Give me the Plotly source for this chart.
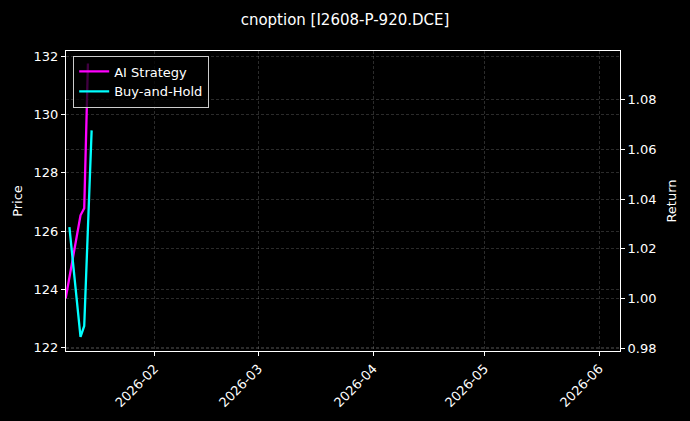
import plotly.graph_objects as go

# AI strategy equity curve
ai_dates = ["2026-01-08", "2026-01-09", "2026-01-12", "2026-01-13", "2026-01-14"]
ai_return = [1.000, 1.0086, 1.0335, 1.0363, 1.0947]

# buy-and-hold curve
bh_dates = ["2026-01-09", "2026-01-12", "2026-01-13", "2026-01-14", "2026-01-15"]
bh_return = [1.0287, 0.9845, 0.9889, 1.0287, 1.0677]

price_ticks = [122, 124, 126, 128, 130, 132]
return_ticks = [0.98, 1.00, 1.02, 1.04, 1.06, 1.08]
date_ticks = ["2026-02-01", "2026-03-01", "2026-04-01", "2026-05-01", "2026-06-01"]
date_labels = ["2026-02", "2026-03", "2026-04", "2026-05", "2026-06"]

grid = "rgba(255,255,255,0.17)"
font = "DejaVu Sans"
tf = dict(size=13)

fig = go.Figure()
# empty trace so the price axis gets drawn
fig.add_trace(go.Scatter(x=[], y=[], yaxis="y", showlegend=False, hoverinfo="skip"))
fig.add_trace(go.Scatter(x=ai_dates, y=ai_return, mode="lines", name="AI Strategy",
                         line=dict(color="#ff00ff", width=2.3), yaxis="y2"))
fig.add_trace(go.Scatter(x=bh_dates, y=bh_return, mode="lines", name="Buy-and-Hold",
                         line=dict(color="#00ffff", width=2.3), yaxis="y2"))

fig.update_layout(
    width=690, height=421,
    margin=dict(l=66, r=70, t=51, b=70, autoexpand=False),
    paper_bgcolor="black", plot_bgcolor="black",
    font=dict(family=font, color="white", size=13),
    title=dict(text="cnoption [I2608-P-920.DCE]", x=0.5, xanchor="center",
               y=0.952, yanchor="middle", font=dict(size=15), automargin=False),
    xaxis=dict(type="date", range=["2026-01-08 02:00", "2026-06-06 14:00"],
               tickvals=date_ticks, ticktext=date_labels, tickangle=-45,
               showline=True, linecolor="white", linewidth=1, mirror=True,
               ticks="outside", tickcolor="white", ticklen=4,
               showgrid=True, gridcolor=grid, griddash="3px,2px", gridwidth=0.6,
               zeroline=False, tickfont=tf, automargin=False),
    yaxis=dict(title=dict(text="Price", standoff=8, font=dict(size=13)),
               range=[121.88, 132.19],
               tickvals=price_ticks, showline=True, linecolor="white", linewidth=1,
               ticks="outside", tickcolor="white", ticklen=4,
               showgrid=True, gridcolor=grid, griddash="3px,2px", gridwidth=0.6,
               zeroline=False, tickfont=tf, automargin=False),
    yaxis2=dict(title=dict(text="Return", standoff=11, font=dict(size=13)),
                range=[0.9788, 1.0997],
                overlaying="y", side="right", tickvals=return_ticks, tickformat=".2f",
                showline=True, linecolor="white", linewidth=1,
                ticks="outside", tickcolor="white", ticklen=4,
                showgrid=True, gridcolor=grid, griddash="3px,2px", gridwidth=0.6,
                zeroline=False, tickfont=tf, automargin=False),
    legend=dict(x=0.013, y=0.985, xanchor="left", yanchor="top",
                bgcolor="rgba(0,0,0,0.75)", bordercolor="#cccccc", borderwidth=1,
                font=dict(size=13), tracegroupgap=2),
    showlegend=True,
)

# drop the browser's default page margin so the figure sits at 0,0
fig.write_html("out.html", config={"displayModeBar": False},
               post_script="document.body.style.margin='0';document.body.style.background='black';")
